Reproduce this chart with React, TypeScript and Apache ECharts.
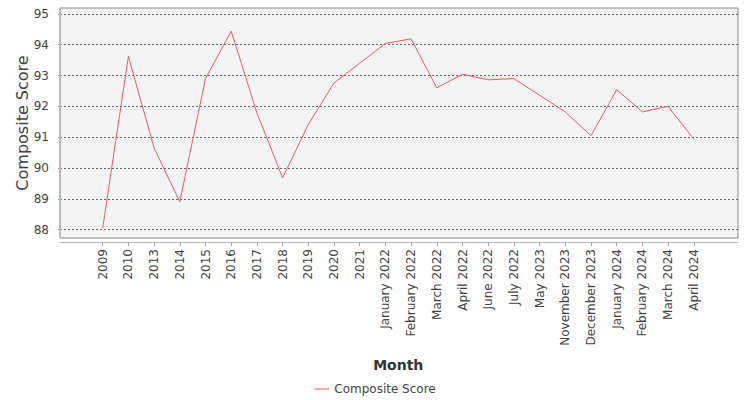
import React, { useEffect, useRef } from 'react'
import * as echarts from 'echarts'

const months = [
  '2009', '2010', '2013', '2014', '2015', '2016', '2017', '2018', '2019', '2020', '2021',
  'January 2022', 'February 2022', 'March 2022', 'April 2022', 'June 2022', 'July 2022',
  'May 2023', 'November 2023', 'December 2023', 'January 2024', 'February 2024',
  'March 2024', 'April 2024',
]

const compositeScore = [
  88.05, 93.62, 90.65, 88.9, 92.9, 94.44, 91.79, 89.68, 91.41, 92.76, 93.4,
  94.04, 94.19, 92.6, 93.04, 92.86, 92.9,
  92.36, 91.82, 91.05, 92.54, 91.82,
  92.0, 90.94,
]

const yMin = 87.73
const yMax = 95.19

const App: React.FC = () => {
  const chartRef = useRef<HTMLDivElement>(null)

  useEffect(() => {
    if (!chartRef.current) return
    const chart = echarts.init(chartRef.current, undefined, { renderer: 'svg' })

    const option: echarts.EChartsOption = {
      animation: false,
      backgroundColor: '#ffffff',
      textStyle: { fontFamily: 'DejaVu Sans' },
      legend: {
        bottom: 0,
        left: 'center',
        icon: 'rect',
        itemWidth: 15,
        itemHeight: 1,
        textStyle: { fontSize: 12, color: '#444' },
        data: ['Composite Score'],
      },
      grid: [
        // frame + y axis + gridlines
        {
          left: 60,
          right: 12,
          top: 8,
          bottom: 162,
          show: true,
          backgroundColor: '#f4f4f4',
          borderColor: '#888',
          borderWidth: 1,
        },
        // category area, inset like the category margins
        {
          left: 89.85,
          right: 43.35,
          top: 8,
          bottom: 162,
        },
      ],
      xAxis: [
        {
          gridIndex: 0,
          type: 'value',
          min: 0,
          max: 1,
          offset: 4,
          axisLine: { show: true, lineStyle: { color: '#b5b5b5' } },
          axisTick: { show: false },
          axisLabel: { show: false },
          splitLine: { show: false },
        },
        {
          gridIndex: 1,
          type: 'category',
          data: months,
          boundaryGap: true,
          offset: 4,
          axisLine: { show: false },
          axisTick: { show: true, alignWithLabel: true, length: 4, lineStyle: { color: '#aaa' } },
          axisLabel: { rotate: 90, interval: 0, fontSize: 12, color: '#444', margin: 7 },
          name: 'Month',
          nameLocation: 'middle',
          nameGap: 116,
          nameMoveOverlap: false,
          nameTextStyle: { fontSize: 14, fontWeight: 'bold', color: '#333' },
        },
      ],
      yAxis: [
        {
          gridIndex: 0,
          type: 'value',
          min: yMin,
          max: yMax,
          splitNumber: 7,
          offset: 4,
          axisLine: { show: true, lineStyle: { color: '#b5b5b5' } },
          axisTick: { show: true, length: 2, lineStyle: { color: '#aaa' } },
          axisLabel: { fontSize: 12, color: '#444', margin: 7, showMinLabel: false, showMaxLabel: false },
          splitLine: {
            show: true,
            showMinLine: false,
            showMaxLine: false,
            lineStyle: { color: '#666', type: [2, 2], width: 1 },
          },
          name: 'Composite Score',
          nameLocation: 'middle',
          nameGap: 26,
          nameMoveOverlap: false,
          nameTextStyle: { fontSize: 16, color: '#444' },
        },
        {
          gridIndex: 1,
          type: 'value',
          min: yMin,
          max: yMax,
          show: false,
          splitLine: { show: false },
        },
      ],
      series: [
        {
          name: 'Composite Score',
          type: 'line',
          xAxisIndex: 1,
          yAxisIndex: 1,
          data: compositeScore,
          symbol: 'none',
          color: '#ff5555',
          lineStyle: { width: 1, color: '#ff5555' },
        },
      ],
    }

    chart.setOption(option)

    return () => {
      chart.dispose()
    }
  }, [])

  return (
    <div
      ref={chartRef}
      style={{ position: 'fixed', left: 0, top: 0, width: '750px', height: '400px' }}
    />
  )
}

export default App
